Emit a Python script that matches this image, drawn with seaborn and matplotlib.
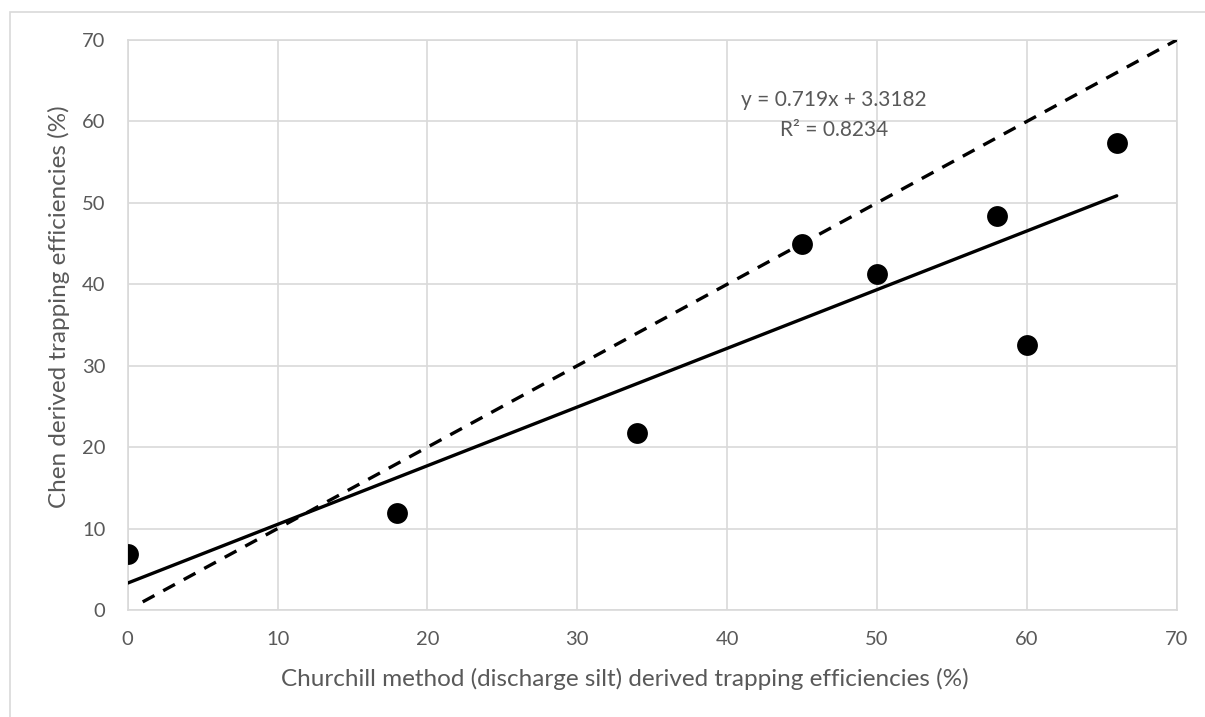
import numpy as np
import pandas as pd
import seaborn as sns
import matplotlib.pyplot as plt
from matplotlib.patches import Rectangle

# data
churchill = [0, 18, 34, 45, 50, 58, 60, 66]
chen = [6.9, 11.9, 21.8, 44.9, 41.3, 48.4, 32.5, 57.3]
one_to_one = [1, 70]
equation_text = 'y = 0.719x + 3.3182'
r2_text = 'R² = 0.8234'

df = pd.DataFrame({'churchill': churchill, 'chen': chen})

sns.set_style('white')
plt.rcParams['font.family'] = ['Lato', 'DejaVu Sans']

grey_text = '#595959'
grid_col = '#d9d9d9'

fig = plt.figure(figsize=(12.05, 7.17), dpi=100)
ax = fig.add_axes([0.106, 0.1492, 0.8705, 0.795])

# outer chart frame (runs off the right and bottom edges)
fig.patches.append(Rectangle((10 / 1205, -0.05), 1.2, 1 - 12 / 717 + 0.05,
                             transform=fig.transFigure, fill=False,
                             edgecolor=grid_col, linewidth=1.2, zorder=0))

# 1:1 reference line
sns.lineplot(x=one_to_one, y=one_to_one, ax=ax, color='black',
             linewidth=2.4, zorder=3)
ax.lines[-1].set_dashes((4, 3))

# scatter + least squares trendline
sns.regplot(data=df, x='churchill', y='chen', ax=ax, ci=None,
            scatter_kws={'s': 225, 'color': 'black', 'alpha': 1,
                         'zorder': 4, 'linewidths': 0},
            line_kws={'color': 'black', 'linewidth': 2.4, 'zorder': 3})

ax.text(47.15, 62.6, equation_text, ha='center', va='center',
        fontsize=15, color=grey_text)
ax.text(47.15, 59.0, r2_text, ha='center', va='center',
        fontsize=15, color=grey_text)

ax.set_xlim(0, 70)
ax.set_ylim(0, 70)
ax.set_xticks(range(0, 71, 10))
ax.set_yticks(range(0, 71, 10))
ax.grid(True, color=grid_col, linewidth=1.2)
ax.set_axisbelow(True)
for sp in ax.spines.values():
    sp.set_color(grid_col)
    sp.set_linewidth(1.2)
ax.tick_params(axis='both', length=0, labelsize=14.5, labelcolor=grey_text)
ax.tick_params(axis='y', pad=16)
ax.tick_params(axis='x', pad=15)

ax.set_xlabel('Churchill method (discharge silt) derived trapping efficiencies (%)',
              fontsize=17.5, color=grey_text)
ax.set_ylabel('Chen derived trapping efficiencies (%)',
              fontsize=17.5, color=grey_text)
ax.xaxis.set_label_coords(0.474, -0.102)
ax.yaxis.set_label_coords(-0.055, 0.533)

fig.savefig('out.png', dpi=100)
